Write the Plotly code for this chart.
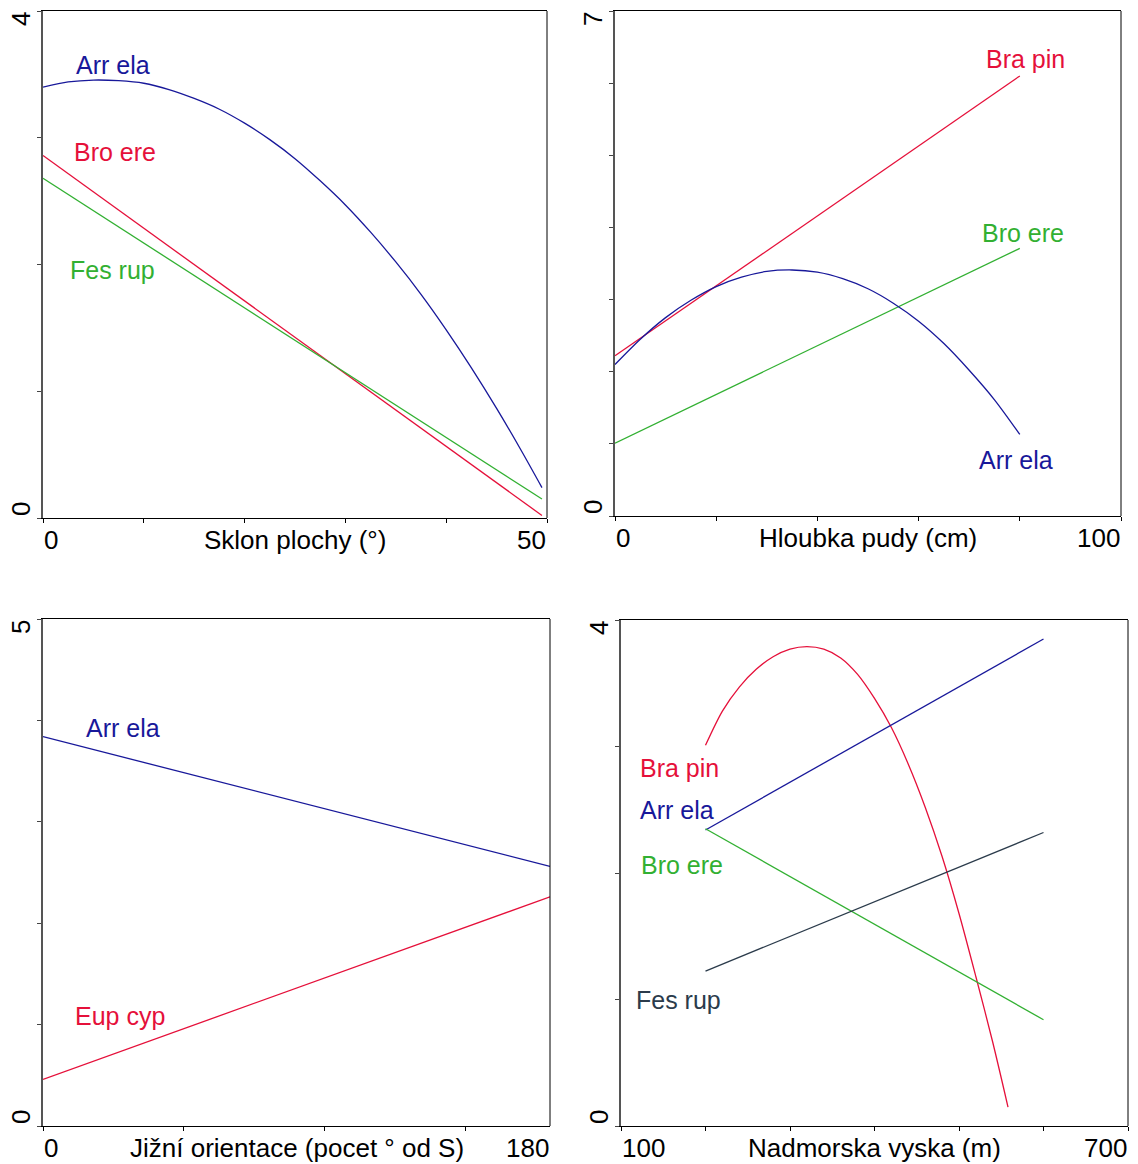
import plotly.graph_objects as go

W, H = 1138, 1164

# ---------------- data ----------------
# Panel 1: Sklon plochy (deg)
p1_arr_x = [0, 2.5, 5, 7.5, 10, 12.5, 15, 17.5, 20, 22.5, 25, 27.5, 30, 32.5, 35,
            37.5, 40, 42.5, 45, 47.5, 49.5]
p1_arr_y = [3.40, 3.44, 3.455, 3.45, 3.43, 3.38, 3.31, 3.225, 3.115, 2.985, 2.835, 2.66,
            2.47, 2.255, 2.02, 1.765, 1.485, 1.185, 0.865, 0.525, 0.24]
p1_bro_x = [0, 49.5]
p1_bro_y = [2.86, 0.02]
p1_fes_x = [0, 49.5]
p1_fes_y = [2.68, 0.15]

# Panel 2: Hloubka pudy (cm)
p2_bra_x = [0, 80]
p2_bra_y = [2.22, 6.10]
p2_bro_x = [0, 80]
p2_bro_y = [1.01, 3.71]
p2_arr_x = [0, 5, 10, 15, 20, 25, 30, 35, 40, 45, 50, 55, 60, 65, 70, 75, 80]
p2_arr_y = [2.10, 2.45, 2.75, 2.99, 3.18, 3.31, 3.39, 3.41, 3.38, 3.29, 3.15, 2.95,
            2.70, 2.39, 2.02, 1.61, 1.13]

# Panel 3: Jizni orientace
p3_arr_x = [0, 180]
p3_arr_y = [3.84, 2.56]
p3_eup_x = [0, 180]
p3_eup_y = [0.46, 2.26]

# Panel 4: Nadmorska vyska (m)
p4_bra_x = [200, 220, 240, 260, 280, 300, 320, 340, 360, 380, 400, 420, 440, 460,
            480, 500, 520, 540, 558]
p4_bra_y = [3.01, 3.28, 3.47, 3.61, 3.71, 3.77, 3.79, 3.77, 3.70, 3.57, 3.38, 3.15,
            2.86, 2.52, 2.13, 1.68, 1.18, 0.66, 0.15]
p4_arr_x = [200, 600]
p4_arr_y = [2.34, 3.85]
p4_bro_x = [200, 600]
p4_bro_y = [2.35, 0.84]
p4_fes_x = [200, 600]
p4_fes_y = [1.225, 2.32]

# axis ranges / tick steps
p1_xrange, p1_yrange, p1_dx = [0, 50], [0, 4], 10
p2_xrange, p2_yrange, p2_dx = [0, 100], [0, 7], 20
p3_xrange, p3_yrange, p3_dx = [0, 180], [0, 5], 50
p4_xrange, p4_yrange, p4_dx = [100, 700], [0, 4], 100

titles = ["Sklon plochy (°)", "Hloubka pudy (cm)",
          "Jižní orientace (pocet ° od S)", "Nadmorska vyska (m)"]

# ---------------- style ----------------
NAVY = "#18189a"
RED = "#e5103a"
GREEN = "#32b032"
SLATE = "#2b3b4b"
FONT = "Liberation Sans, Arial, sans-serif"
FS = 26
LW = 1.3

# panel boxes in pixels (left, right, top, bottom)
boxes = [(43, 547, 11, 518), (615, 1121, 11, 516),
         (43, 550, 619, 1126), (621, 1128, 620, 1126)]


def px2x(px):
    return px / W


def px2y(py):
    return 1 - py / H


fig = go.Figure()


def add_line(i, xs, ys, color, shape="linear"):
    ax = "" if i == 1 else str(i)
    line = dict(color=color, width=LW, shape=shape)
    if shape == "spline":
        line["smoothing"] = 0.8
    fig.add_trace(go.Scatter(x=xs, y=ys, mode="lines", line=line,
                             xaxis="x" + ax, yaxis="y" + ax, showlegend=False,
                             hoverinfo="skip"))


add_line(1, p1_arr_x, p1_arr_y, NAVY, "spline")
add_line(1, p1_bro_x, p1_bro_y, RED)
add_line(1, p1_fes_x, p1_fes_y, GREEN)
add_line(2, p2_bra_x, p2_bra_y, RED)
add_line(2, p2_bro_x, p2_bro_y, GREEN)
add_line(2, p2_arr_x, p2_arr_y, NAVY, "spline")
add_line(3, p3_arr_x, p3_arr_y, NAVY)
add_line(3, p3_eup_x, p3_eup_y, RED)
add_line(4, p4_bra_x, p4_bra_y, RED, "spline")
add_line(4, p4_arr_x, p4_arr_y, NAVY)
add_line(4, p4_bro_x, p4_bro_y, GREEN)
add_line(4, p4_fes_x, p4_fes_y, SLATE)

ranges = [(p1_xrange, p1_yrange, p1_dx), (p2_xrange, p2_yrange, p2_dx),
          (p3_xrange, p3_yrange, p3_dx), (p4_xrange, p4_yrange, p4_dx)]

layout = dict(width=W, height=H, margin=dict(l=0, r=0, t=0, b=0),
              paper_bgcolor="white", plot_bgcolor="white", showlegend=False,
              font=dict(family=FONT, size=FS, color="black"))
shapes = []
annotations = []

for i, ((xr, yr, dx), (l, r, t, b)) in enumerate(zip(ranges, boxes), start=1):
    ax = "" if i == 1 else str(i)
    layout["xaxis" + ax] = dict(domain=[px2x(l), px2x(r)], range=xr, anchor="y" + ax,
                                showgrid=False, zeroline=False, showline=True, mirror=True,
                                linecolor="black", linewidth=1, ticks="outside", ticklen=4,
                                tickcolor="black", tick0=xr[0], dtick=dx,
                                showticklabels=False, fixedrange=True)
    layout["yaxis" + ax] = dict(domain=[px2y(b), px2y(t)], range=yr, anchor="x" + ax,
                                showgrid=False, zeroline=False, showline=True, mirror=False,
                                linecolor="#555555", linewidth=1.5, ticks="outside", ticklen=4,
                                tickcolor="#444444", tick0=0, dtick=1,
                                showticklabels=False, fixedrange=True)
    # right border
    shapes.append(dict(type="line", xref="x" + ax + " domain", yref="y" + ax + " domain",
                       x0=1, x1=1, y0=0, y1=1, line=dict(color="black", width=1)))
    # x tick labels
    ly = b + 22
    annotations.append(dict(x=px2x(l - 1), y=px2y(ly), xref="paper", yref="paper",
                            text=str(xr[0]), showarrow=False, xanchor="left", yanchor="middle"))
    annotations.append(dict(x=px2x(r + 1), y=px2y(ly), xref="paper", yref="paper",
                            text=str(xr[1]), showarrow=False, xanchor="right", yanchor="middle"))
    # y tick labels (rotated)
    annotations.append(dict(x=px2x(l - 22), y=px2y(t + 8), xref="paper", yref="paper",
                            text=str(yr[1]), showarrow=False, textangle=-90,
                            xanchor="center", yanchor="middle"))
    annotations.append(dict(x=px2x(l - 22), y=px2y(b - 9), xref="paper", yref="paper",
                            text=str(yr[0]), showarrow=False, textangle=-90,
                            xanchor="center", yanchor="middle"))

title_centers = [295, 868, 297, 874]
for (l, r, t, b), tc, tt in zip(boxes, title_centers, titles):
    annotations.append(dict(x=px2x(tc), y=px2y(b + 22), xref="paper", yref="paper",
                            text=tt, showarrow=False, xanchor="center", yanchor="middle"))

# species labels: (panel, x, y, text, color)
labels = [
    (1, 6.9, 3.57, "Arr ela", NAVY),
    (1, 7.1, 2.89, "Bro ere", RED),
    (1, 6.9, 1.96, "Fes rup", GREEN),
    (2, 81.1, 6.33, "Bra pin", RED),
    (2, 80.7, 3.92, "Bro ere", GREEN),
    (2, 79.3, 0.78, "Arr ela", NAVY),
    (3, 28.4, 3.93, "Arr ela", NAVY),
    (3, 27.3, 1.08, "Eup cyp", RED),
    (4, 169.8, 2.83, "Bra pin", RED),
    (4, 166.3, 2.50, "Arr ela", NAVY),
    (4, 172.2, 2.06, "Bro ere", GREEN),
    (4, 167.5, 1.00, "Fes rup", SLATE),
]
for pnl, x, y, txt, col in labels:
    ax = "" if pnl == 1 else str(pnl)
    annotations.append(dict(x=x, y=y, xref="x" + ax, yref="y" + ax, text=txt,
                            showarrow=False, xanchor="center", yanchor="middle",
                            font=dict(color=col, size=25, family=FONT)))

layout["shapes"] = shapes
layout["annotations"] = annotations
fig.update_layout(**layout)
fig.write_html("out.html")
